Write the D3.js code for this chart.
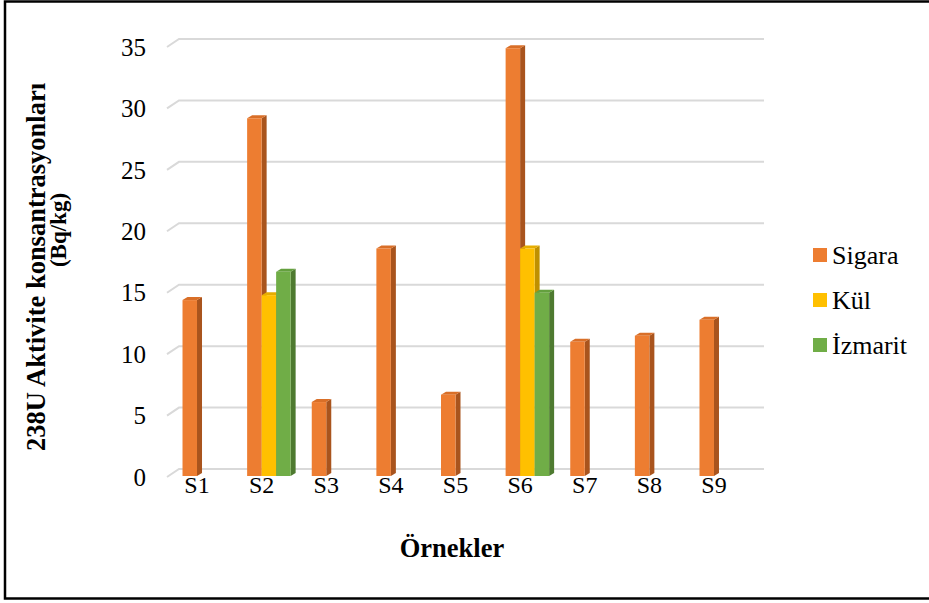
<!DOCTYPE html>
<html>
<head>
<meta charset="utf-8">
<script src="https://cdn.jsdelivr.net/npm/d3@7"></script>
<style>
  html, body { margin: 0; padding: 0; background: #fff; }
  svg { display: block; }
</style>
</head>
<body>
<svg id="chart" width="929" height="603"></svg>
<script>
// Sample names along the x axis
const categories = ["S1", "S2", "S3", "S4", "S5", "S6", "S7", "S8", "S9"];
// Series names (legend order)
const seriesNames = ["Sigara", "Kül", "İzmarit"];
// 238U activity concentrations (Bq/kg); null where no measurement
const sigara  = [14.4, 29.2, 6.1, 18.6, 6.7, 34.9, 11.0, 11.5, 12.8];
const kul     = [null, 14.8, null, null, null, 18.6, null, null, null];
const izmarit = [null, 16.7, null, null, null, 15.0, null, null, null];
// Value axis ticks
const yTicks = [0, 5, 10, 15, 20, 25, 30, 35];

const FONT = "Liberation Serif";
const seriesValues = [sigara, kul, izmarit];
const colors = {
  "Sigara":  { front: "#ED7D31", side: "#A9541D", top: "#D96F28" },
  "Kül":     { front: "#FFC000", side: "#BF9000", top: "#E6AD00" },
  "İzmarit": { front: "#70AD47", side: "#4E7A30", top: "#64A03E" }
};

const svg = d3.select("#chart");

// Outer frame (right edge runs past the canvas)
svg.append("rect")
  .attr("x", 5).attr("y", 1.5).attr("width", 940).attr("height", 597)
  .attr("fill", "none").attr("stroke", "#000").attr("stroke-width", 2.5);

// Front-plane value scale and 3D wall offset
const y = d3.scaleLinear().domain([0, 35]).range([477, 47]);
const wallDx = 12, wallDy = -8;
const floorLeft = 167, wallRight = 764;

// Category placement
const x = d3.scaleBand().domain(categories).range([164.7, 746.3]).padding(0);
const inner = d3.scaleBand().domain(seriesNames).range([-14.5, 29]).padding(0);
const barDx = 5, barDy = -3;

// Gridlines: short receding segment plus back-wall line
const grid = svg.append("g");
yTicks.forEach(v => {
  const yf = y(v), yb = y(v) + wallDy;
  grid.append("path")
    .attr("d", `M${floorLeft},${yf}L${floorLeft + wallDx},${yb}H${wallRight}`)
    .attr("fill", "none").attr("stroke", "#D9D9D9").attr("stroke-width", 2);
});

// Y tick labels
const yAxis = d3.axisLeft(y).tickValues(yTicks).tickSize(0).tickPadding(0);
const yg = svg.append("g").attr("transform", "translate(146,0)").call(yAxis);
yg.select(".domain").remove();
yg.attr("font-family", FONT).attr("font-size", 25);
yg.selectAll("text").attr("fill", "#000").attr("dy", "0.33em");

// Bars with front, side and top faces
const bars = svg.append("g");
categories.forEach((c, i) => {
  const cx = x(c) + x.bandwidth() / 2;
  seriesNames.forEach((s, j) => {
    const v = seriesValues[j][i];
    if (v == null) return;
    const x0 = cx + inner(s), w = inner.bandwidth();
    const yt = y(v), yb = y(0) - 1;
    const col = colors[s];
    bars.append("path")
      .attr("d", `M${x0 + w},${yt}L${x0 + w + barDx},${yt + barDy}V${yb + barDy}L${x0 + w},${yb}Z`)
      .attr("fill", col.side);
    bars.append("path")
      .attr("d", `M${x0},${yt}L${x0 + barDx},${yt + barDy}H${x0 + w + barDx}L${x0 + w},${yt}Z`)
      .attr("fill", col.top);
    bars.append("rect")
      .attr("x", x0).attr("y", yt).attr("width", w).attr("height", yb - yt)
      .attr("fill", col.front);
  });
});

// X tick labels
const xAxis = d3.axisBottom(x).tickSize(0).tickPadding(0);
const xg = svg.append("g").attr("transform", "translate(0,493)").call(xAxis);
xg.select(".domain").remove();
xg.attr("font-family", FONT).attr("font-size", 24);
xg.selectAll("text").attr("fill", "#000").attr("dy", 0);

// Axis titles
svg.append("text")
  .attr("x", 452).attr("y", 557).attr("text-anchor", "middle")
  .attr("font-family", FONT).attr("font-size", 26.5).attr("font-weight", "bold")
  .text("Örnekler");

const yTitle = svg.append("g").attr("transform", "rotate(-90)")
  .attr("font-family", FONT).attr("font-weight", "bold").attr("text-anchor", "middle");
yTitle.append("text").attr("x", -267).attr("y", 45)
  .attr("font-size", 26.5).text("238U Aktivite konsantrasyonları");
yTitle.append("text").attr("x", -230).attr("y", 66)
  .attr("font-size", 23).text("(Bq/kg)");

// Legend
const legend = svg.append("g").attr("font-family", FONT);
seriesNames.forEach((s, j) => {
  const ly = 255 + j * 45;
  legend.append("rect")
    .attr("x", 813).attr("y", ly - 7).attr("width", 14).attr("height", 14)
    .attr("fill", colors[s].front);
  legend.append("text")
    .attr("x", 832).attr("y", ly).attr("dy", "0.33em")
    .attr("font-size", 26).attr("fill", "#000").text(s);
});
</script>
</body>
</html>
